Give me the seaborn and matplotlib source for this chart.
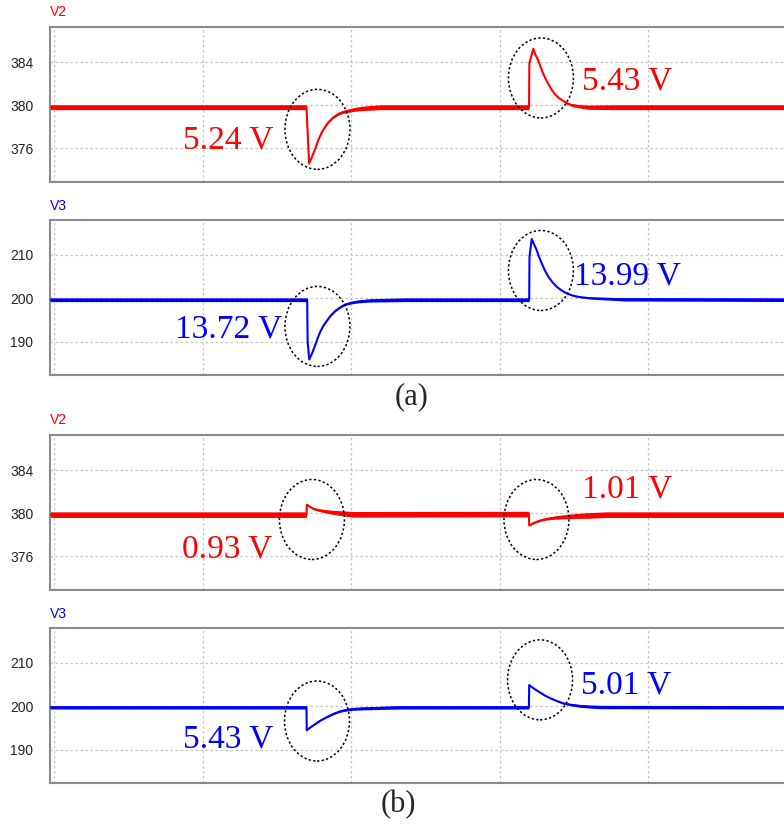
import numpy as np
import matplotlib
matplotlib.use("Agg")
import matplotlib.pyplot as plt
import seaborn as sns
from matplotlib.patches import Ellipse

# ---- values ----
# time in grid divisions (one dotted vertical line per division)
# r_* = half thickness of the switching ripple band, in volts

# (a) V2
t_a_v2 = [-0.05, 1.700, 1.718, 1.738, 1.758, 1.780, 1.803, 1.825, 1.847, 1.878, 1.914, 1.945,
          1.982, 2.025, 2.072, 2.140, 2.207, 2.364,
          3.199, 3.201, 3.228, 3.240, 3.261, 3.278, 3.295, 3.312, 3.329, 3.350, 3.374, 3.400,
          3.430, 3.456, 3.486, 3.540, 3.598, 3.778, 5.10]
v_a_v2 = [379.8, 379.8, 374.56, 375.2, 375.9, 376.75, 377.45, 377.95, 378.38, 378.82, 379.16, 379.35,
          379.47, 379.6, 379.68, 379.75, 379.8, 379.8,
          379.8, 383.9, 385.23, 384.75, 384.16, 383.5, 382.9, 382.4, 381.96, 381.45, 381.0, 380.65,
          380.38, 380.15, 380.0, 379.88, 379.8, 379.8, 379.8]
r_a_v2 = [0.23, 0.23, 0.0, 0.0, 0.0, 0.02, 0.03, 0.05, 0.06, 0.08, 0.10, 0.13,
          0.15, 0.18, 0.20, 0.22, 0.23, 0.23,
          0.23, 0.0, 0.0, 0.0, 0.0, 0.0, 0.0, 0.0, 0.0, 0.0, 0.0, 0.02,
          0.05, 0.08, 0.12, 0.16, 0.20, 0.23, 0.23]

# (a) V3
t_a_v3 = [-0.05, 1.705, 1.708, 1.719, 1.738, 1.758, 1.775, 1.791, 1.812, 1.836, 1.862, 1.892,
          1.925, 1.960, 2.000, 2.049, 2.110, 2.184, 2.364,
          3.200, 3.202, 3.217, 3.232, 3.250, 3.266, 3.284, 3.305, 3.329, 3.355, 3.385, 3.418,
          3.453, 3.490, 3.531, 3.600, 3.665, 3.845, 5.10]
v_a_v3 = [199.7, 199.7, 190.0, 185.98, 187.4, 189.15, 190.8, 192.2, 193.6, 194.8, 196.0, 197.05,
          197.9, 198.6, 199.0, 199.3, 199.5, 199.6, 199.7,
          199.7, 209.6, 213.69, 212.5, 211.15, 209.6, 208.1, 206.5, 205.0, 203.8, 202.7, 201.85,
          201.15, 200.7, 200.37, 200.1, 200.0, 199.8, 199.7]
r_a_v3 = [0.42, 0.42, 0.0, 0.0, 0.0, 0.0, 0.0, 0.0, 0.03, 0.05, 0.08, 0.10,
          0.15, 0.20, 0.25, 0.30, 0.35, 0.40, 0.42,
          0.42, 0.0, 0.0, 0.0, 0.0, 0.0, 0.0, 0.0, 0.0, 0.0, 0.0, 0.03,
          0.05, 0.08, 0.12, 0.18, 0.25, 0.38, 0.42]

# (b) V2
t_b_v2 = [-0.05, 1.700, 1.703, 1.722, 1.746, 1.790, 1.836, 1.880, 1.926, 2.013,
          3.198, 3.200, 3.235, 3.273, 3.315, 3.362, 3.405, 3.452, 3.520, 3.587, 3.722, 5.10]
v_b_v2 = [379.85, 379.85, 380.78, 380.6, 380.4, 380.25, 380.15, 380.06, 380.0, 379.88,
          379.9, 378.84, 379.1, 379.3, 379.45, 379.55, 379.62, 379.67, 379.73, 379.77, 379.85, 379.85]
r_b_v2 = [0.26, 0.26, 0.05, 0.06, 0.08, 0.12, 0.15, 0.19, 0.22, 0.26,
          0.26, 0.05, 0.06, 0.08, 0.10, 0.14, 0.17, 0.20, 0.23, 0.26, 0.26, 0.26]

# (b) V3
t_b_v3 = [-0.05, 1.700, 1.702, 1.728, 1.758, 1.795, 1.836, 1.880, 1.926, 1.970, 2.015, 2.080,
          2.150, 2.330,
          3.198, 3.200, 3.235, 3.273, 3.305, 3.340, 3.385, 3.430, 3.485, 3.542, 3.600, 3.677, 5.10]
v_b_v3 = [199.77, 199.77, 194.5, 195.2, 195.9, 196.75, 197.5, 198.25, 198.85, 199.2, 199.4, 199.52,
          199.6, 199.77,
          199.77, 204.9, 204.0, 203.2, 202.5, 201.9, 201.25, 200.7, 200.35, 200.1, 199.95, 199.85, 199.77]
r_b_v3 = [0.38, 0.38, 0.0, 0.03, 0.05, 0.08, 0.10, 0.15, 0.20, 0.25, 0.30, 0.33,
          0.35, 0.38,
          0.38, 0.0, 0.02, 0.05, 0.07, 0.10, 0.15, 0.20, 0.25, 0.30, 0.33, 0.38, 0.38]

v2_ticks = [376, 380, 384]
v3_ticks = [190, 200, 210]

labels_a_v2 = ["5.24 V", "5.43 V"]
labels_a_v3 = ["13.72 V", "13.99 V"]
labels_b_v2 = ["0.93 V", "1.01 V"]
labels_b_v3 = ["5.43 V", "5.01 V"]

RED = "#ff0000"
BLUE = "#0000ff"
SERIF = ["Liberation Serif", "DejaVu Serif"]

sns.set_style("white")
plt.rcParams["font.family"] = ["Liberation Sans", "DejaVu Sans"]

W, H = 784, 825
fig = plt.figure(figsize=(W / 100, H / 100), dpi=100)

# top/bottom pixel rows of each scope window, annotation spots (t, v)
panels = [
    dict(t=t_a_v2, v=v_a_v2, r=r_a_v2, name="V2", color=RED, ticks=v2_ticks,
         ylim=(372.84, 387.26), top=27, bottom=182,
         ell=[(1.774, 377.74), (3.279, 382.52)],
         txt=[(1.172, 376.0), (3.862, 381.49)], labels=labels_a_v2),
    dict(t=t_a_v3, v=v_a_v3, r=r_a_v3, name="V3", color=BLUE, ticks=v3_ticks,
         ylim=(182.4, 218.05), top=220, bottom=375,
         ell=[(1.774, 193.57), (3.279, 206.44)],
         txt=[(1.175, 190.92), (3.862, 203.11)], labels=labels_a_v3),
    dict(t=t_b_v2, v=v_b_v2, r=r_b_v2, name="V2", color=RED, ticks=v2_ticks,
         ylim=(372.84, 387.26), top=435, bottom=590,
         ell=[(1.737, 379.4), (3.249, 379.4)],
         txt=[(1.168, 375.91), (3.859, 381.4)], labels=labels_b_v2),
    dict(t=t_b_v3, v=v_b_v3, r=r_b_v3, name="V3", color=BLUE, ticks=v3_ticks,
         ylim=(182.4, 218.0), top=628, bottom=783,
         ell=[(1.771, 196.64), (3.273, 206.1)],
         txt=[(1.172, 190.52), (3.852, 202.99)], labels=labels_b_v3),
]

left_px, right_px = 50, 800
for p in panels:
    h_px = p["bottom"] - p["top"]
    ax = fig.add_axes([left_px / W, 1 - p["bottom"] / H, (right_px - left_px) / W, h_px / H])
    t = np.array(p["t"])
    v = np.array(p["v"])
    r = np.array(p["r"])

    ax.fill_between(t, v - r, v + r, color=p["color"], lw=0, zorder=2)
    sns.lineplot(x=t, y=v, ax=ax, color=p["color"], lw=1.5, estimator=None,
                 sort=False, zorder=3)

    x0 = -4 / 148.5
    x1 = x0 + (right_px - left_px) / 148.5
    ax.set_xlim(x0, x1)
    ax.set_ylim(*p["ylim"])
    ax.set_xticks([0, 1, 2, 3, 4, 5])
    ax.set_yticks(p["ticks"])
    ax.set_xlabel("")
    ax.set_ylabel("")
    ax.tick_params(axis="x", length=0, labelbottom=False)
    ax.tick_params(axis="y", length=0, pad=12, labelsize=10, labelcolor="#222222")
    ax.set_axisbelow(True)
    ax.grid(True, color="#c4c4c4", lw=0.9, ls=(0, (2, 2)))
    for s in ax.spines.values():
        s.set_color("#8a8a8a")
        s.set_linewidth(1.5)

    ax.text(0.0, 1 + 10.5 / h_px, p["name"], transform=ax.transAxes, color=p["color"],
            fontsize=10, ha="left", va="baseline")

    # dotted circles around the transients
    yrange = p["ylim"][1] - p["ylim"][0]
    for (ec_t, ec_v) in p["ell"]:
        ax.add_patch(Ellipse((ec_t, ec_v), width=65 / 148.5, height=80 / h_px * yrange,
                             fill=False, ec="black", lw=1.1, ls=(0, (1.5, 1.5)), zorder=4))

    for (tx, ty), lab in zip(p["txt"], p["labels"]):
        ax.text(tx, ty, lab, color=p["color"], fontsize=24, ha="center", va="baseline",
                family=SERIF, zorder=5)

fig.text(412 / W, 1 - 397 / H, "(a)", ha="center", va="center", fontsize=22, family=SERIF)
fig.text(398 / W, 1 - 805 / H, "(b)", ha="center", va="center", fontsize=22, family=SERIF)

fig.savefig("out.png", dpi=100, facecolor="white")
